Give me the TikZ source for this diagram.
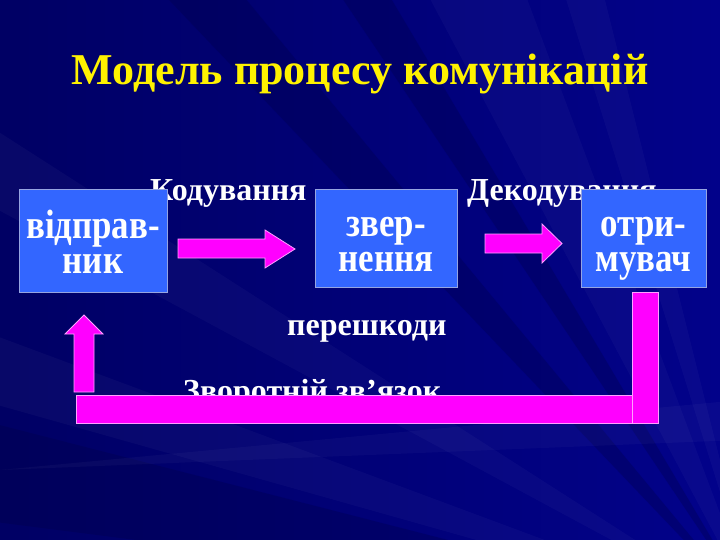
\documentclass[tikz,border=0pt]{standalone}
\usepackage{fontspec}
\setmainfont{Liberation Serif}
\newfontfamily\boxfont[FakeStretch=0.85]{Liberation Serif}
\usetikzlibrary{positioning}
\definecolor{slidebg}{RGB}{2,2,138}
\definecolor{slideleft}{RGB}{0,0,100}
\definecolor{slidedark}{RGB}{0,0,70}
\definecolor{boxblue}{RGB}{51,102,255}
\definecolor{boxline}{RGB}{150,165,225}
\definecolor{magentafill}{RGB}{255,0,255}
\definecolor{magentaline}{RGB}{255,160,255}
\tikzset{
  unitbox/.style={draw=boxline, line width=1pt, fill=boxblue, text=white,
    font=\boxfont\fontsize{41}{35}\selectfont\bfseries, align=center, inner sep=0pt,
    text height=75pt, text depth=10pt},
  pinkshape/.style={draw=magentaline, line width=0.8pt, fill=magentafill},
  caption/.style={text=white, font=\fontsize{32}{36}\selectfont\bfseries,
    inner sep=0pt, anchor=base west},
  streak/.style={fill=white, opacity=0.03},
  shadowstreak/.style={fill=slidedark, opacity=0.3}
}
\begin{document}
\begin{tikzpicture}[x=1pt,y=-1pt]
\useasboundingbox (0,0) rectangle (720,540);
% background
\shade[left color=slideleft, right color=slidebg] (0,0) rectangle (720,540);
\begin{scope}
\clip (0,0) rectangle (720,540);
\fill[shadowstreak] (760,620) -- (150,-20) -- (230,-20) -- cycle;
\fill[shadowstreak] (760,620) -- (330,-20) -- (380,-20) -- cycle;
\fill[streak] (760,620) -- (420,-20) -- (520,-20) -- cycle;
\fill[streak] (760,620) -- (560,-20) -- (600,-20) -- cycle;
\fill[streak] (760,620) -- (-20,120) -- (-20,200) -- cycle;
\fill[streak] (760,620) -- (-20,330) -- (-20,400) -- cycle;
\fill[shadowstreak] (760,620) -- (-20,420) -- (-20,520) -- cycle;
\fill[streak] (0,470) -- (740,400) -- (740,440) -- cycle;
\end{scope}

\node[text=yellow, font=\fontsize{44}{48}\selectfont\bfseries, anchor=base,
  inner sep=0pt] (title) at (360,85) {Модель процесу комунікацій};

% labels behind the boxes
\node[caption] (encode) at (150,201) {Кодування};
\node[caption] (decode) at (467,201) {Декодування};
\node[caption] (noise) at (287,335) {перешкоди};
\node[caption] (feedback) at (183,401) {Зворотній зв’язок};

% boxes
\node[unitbox, minimum width=148pt, minimum height=102pt] (sender) at (93,241) {відправ-\\ник};
\node[unitbox, minimum width=142pt, minimum height=97pt] (channel) at (386,238.5) {звер-\\нення};
\node[unitbox, minimum width=125pt, minimum height=97pt] (receiver) at (643.5,238.5) {отри-\\мувач};

% block arrows
\draw[pinkshape] (178,239) -- (265,239) -- (265,230) -- (295,249)
  -- (265,268) -- (265,258) -- (178,258) -- cycle;
\draw[pinkshape] (485,234) -- (542,234) -- (542,224) -- (562,243.5)
  -- (542,263) -- (542,253) -- (485,253) -- cycle;
\draw[pinkshape] (74,392) -- (74,334) -- (65,334) -- (84,315)
  -- (103,334) -- (94,334) -- (94,392) -- cycle;
\draw[pinkshape] (76,395) rectangle (632,423);
\draw[pinkshape] (632,292) rectangle (658,423);
\end{tikzpicture}
\end{document}
